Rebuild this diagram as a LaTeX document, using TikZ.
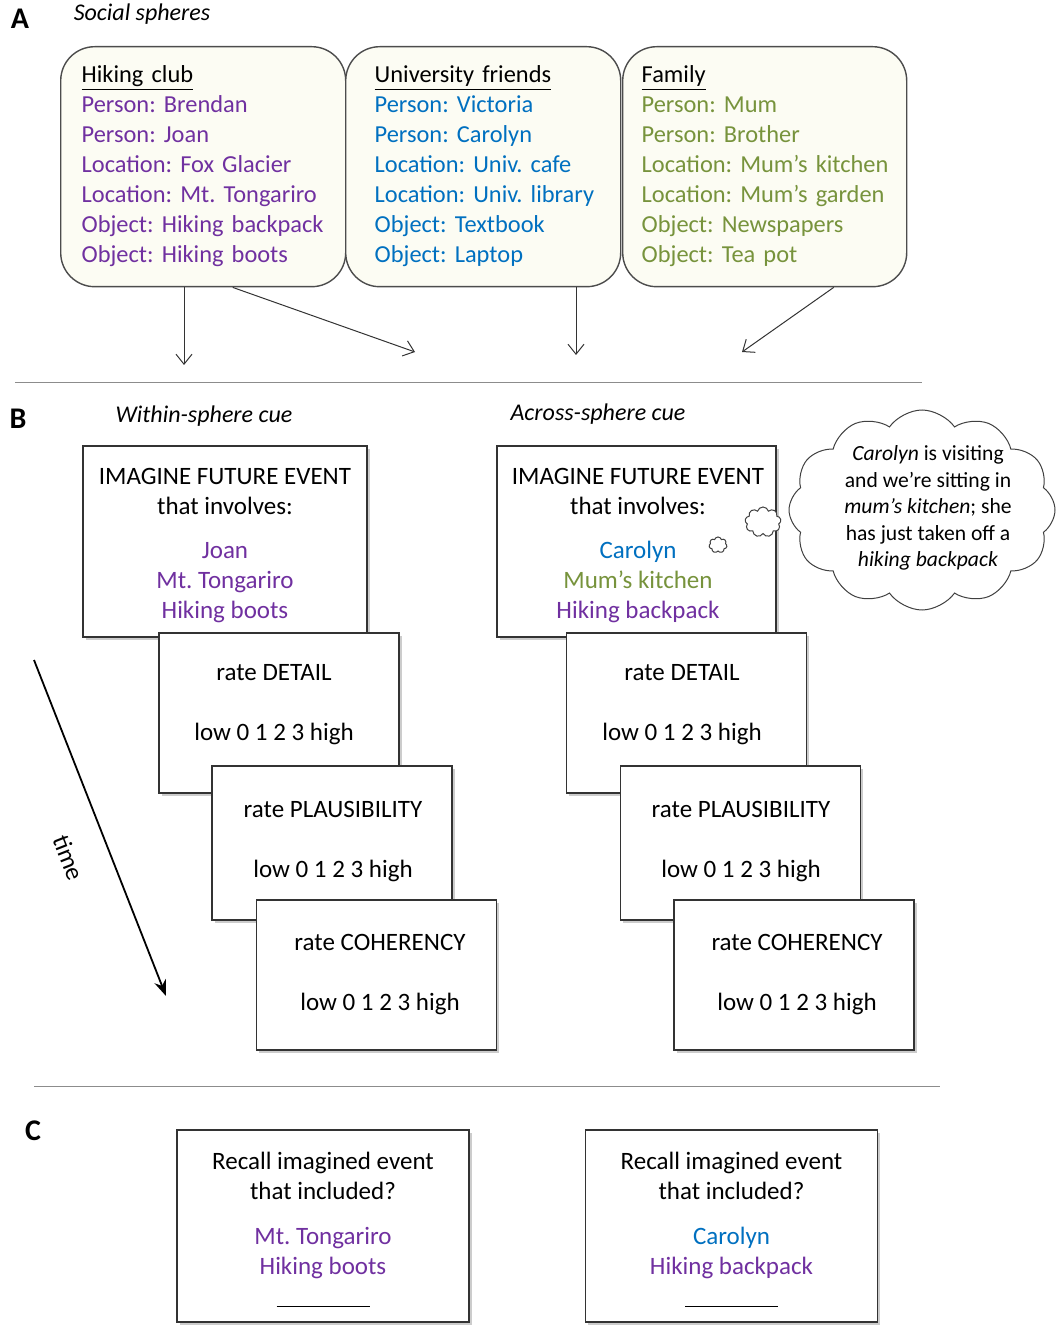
\documentclass[tikz,border=0pt]{standalone}
\usepackage{fontspec}
\setmainfont{Carlito}
\usepackage{xcolor}
\usetikzlibrary{arrows.meta,positioning,shapes.symbols,shadows}
\definecolor{purp}{RGB}{112,48,160}
\definecolor{blu}{RGB}{0,112,192}
\definecolor{olv}{RGB}{119,147,60}
\definecolor{cream}{RGB}{252,252,243}

\begin{document}
\frenchspacing
\begin{tikzpicture}[
  x=0.5pt,y=-0.5pt,
  font=\fontsize{12.5}{15}\selectfont,
  hd/.style={font=\fontsize{15}{18}\selectfont\bfseries},
  ttl/.style={font=\fontsize{12}{15}\selectfont\itshape},
  sph/.style={rectangle,draw=black!70,fill=cream,rounded corners=17pt,line width=0.7pt,align=left,minimum height=120pt,anchor=north west,inner ysep=0pt,font=\fontsize{12.2}{15}\selectfont},
  bx/.style={rectangle,draw=black!80,fill=white,line width=0.6pt,align=center,drop shadow={shadow xshift=1.3pt,shadow yshift=-1.3pt,fill=black!40}},
  ev/.style={bx,minimum height=95.5pt},
  rt/.style={bx,minimum width=120pt},
  rc/.style={bx,minimum width=146pt,minimum height=96pt},
  rtxt/.style={align=center},
  cl/.style={cloud,draw=black!75,fill=white,line width=0.5pt,inner sep=0pt},
  ar/.style={-{Straight Barb[length=5pt,width=8pt]},black!80,line width=0.5pt},
  tm/.style={-{Stealth[length=8pt,width=6pt]},line width=0.9pt},
  sep/.style={black!45,line width=0.5pt}
]
\useasboundingbox (0,0) rectangle (1056,1325);

% A: social spheres
\node[hd] (la) at (20,19) {A};
\node[ttl] (lat) at (142,14) {Social spheres};
\node[sph,text width=121.5pt,inner xsep=10.5pt] (hik) at (60,46) {\begin{tabular}{@{}l@{}}
  \underline{Hiking club}\\
  \textcolor{purp}{Person: Brendan}\\
  \textcolor{purp}{Person: Joan}\\
  \textcolor{purp}{Location: Fox Glacier}\\
  \textcolor{purp}{Location: Mt. Tongariro}\\
  \textcolor{purp}{Object: Hiking backpack}\\
  \textcolor{purp}{Object: Hiking boots}\end{tabular}};
\node[sph,text width=108.5pt,inner xsep=14.5pt] (uni) at (345,46) {\begin{tabular}{@{}l@{}}
  \underline{University friends}\\
  \textcolor{blu}{Person: Victoria}\\
  \textcolor{blu}{Person: Carolyn}\\
  \textcolor{blu}{Location: Univ. cafe}\\
  \textcolor{blu}{Location: Univ. library}\\
  \textcolor{blu}{Object: Textbook}\\
  \textcolor{blu}{Object: Laptop}\end{tabular}};
\node[sph,text width=123pt,inner xsep=9.5pt] (fam) at (622,46) {\begin{tabular}{@{}l@{}}
  \underline{Family}\\
  \textcolor{olv}{Person: Mum}\\
  \textcolor{olv}{Person: Brother}\\
  \textcolor{olv}{Location: Mum’s kitchen}\\
  \textcolor{olv}{Location: Mum’s garden}\\
  \textcolor{olv}{Object: Newspapers}\\
  \textcolor{olv}{Object: Tea pot}\end{tabular}};
\coordinate (a1) at (184,365);
\coordinate (a2) at (415,352);
\coordinate (a3) at (576,355);
\coordinate (a4) at (742,352);
\draw[ar] (hik.south -| a1) -- (a1);
\draw[ar] ([xshift=14.75pt]hik.south) -- (a2);
\draw[ar] (uni.south -| a3) -- (a3);
\draw[ar] ([xshift=34.5pt]fam.south) -- (a4);
\draw[sep] (15,383) -- (922,383);

% B: cue trials
\node[hd] (lb) at (18,419) {B};
\node[ttl] (lbw) at (204,416) {Within-sphere cue};
\node[ttl] (lba) at (598,414) {Across-sphere cue};

\node[ev,minimum width=142pt] (wimg) at (225,541.5) {};
\node[rtxt] (wimgt) at (225,545.5) {IMAGINE FUTURE EVENT\\ that involves:\\[7pt]
  \textcolor{purp}{Joan}\\ \textcolor{purp}{Mt. Tongariro}\\ \textcolor{purp}{Hiking boots}};
\node[rt,minimum height=80pt] (wdet) at (279,713) {};
\node[rtxt] (wdett) at (274,704.5) {rate DETAIL\\[15pt]low 0 1 2 3 high};
\node[rt,minimum height=77pt] (wpla) at (332,843) {};
\node[rtxt] (wplat) at (333,841.5) {rate PLAUSIBILITY\\[15pt]low 0 1 2 3 high};
\node[rt,minimum height=75pt] (wcoh) at (376.5,975) {};
\node[rtxt] (wcoht) at (380,974.5) {rate COHERENCY\\[15pt]low 0 1 2 3 high};

\node[ev,minimum width=139.5pt] (aimg) at (636.5,541.5) {};
\node[rtxt] (aimgt) at (638,545.5) {IMAGINE FUTURE EVENT\\ that involves:\\[7pt]
  \textcolor{blu}{Carolyn}\\ \textcolor{olv}{Mum’s kitchen}\\ \textcolor{purp}{Hiking backpack}};
\node[cl,cloud puffs=9,minimum width=18pt,minimum height=15pt] (bub2) at (763,522) {};
\node[cl,cloud puffs=7,minimum width=9pt,minimum height=8pt] (bub3) at (718,545) {};
\node[cl,cloud puffs=12,cloud puff arc=110,minimum width=133pt,minimum height=100pt] (bub) at (922,510) {};
\node[align=center,font=\fontsize{10.8}{13.25}\selectfont] (bubt) at (928,508) {\textit{Carolyn} is visiting\\
  and we’re sitting in\\ \textit{mum’s kitchen}; she\\ has just taken off a\\ \textit{hiking backpack}};
\node[rt,minimum height=80pt] (adet) at (686.5,713) {};
\node[rtxt] (adett) at (682,704.5) {rate DETAIL\\[15pt]low 0 1 2 3 high};
\node[rt,minimum height=77pt] (apla) at (740.5,843) {};
\node[rtxt] (aplat) at (741,841.5) {rate PLAUSIBILITY\\[15pt]low 0 1 2 3 high};
\node[rt,minimum height=75pt] (acoh) at (794,975) {};
\node[rtxt] (acoht) at (797,974.5) {rate COHERENCY\\[15pt]low 0 1 2 3 high};

\coordinate (t0) at (34,660);
\coordinate (t1) at (166,996);
\draw[tm] (t0) -- node[pos=0.545,sloped,below=12pt] (tl) {time} (t1);
\draw[sep] (34,1086) -- (940,1086);

% C: recall
\node[hd] (lc) at (33,1131) {C};
\node[rc] (wrec) at (323,1226) {};
\node[rtxt] (wrect) at (323,1229.5) {Recall imagined event\\ that included?\\[7.5pt]
  \textcolor{purp}{Mt. Tongariro}\\ \textcolor{purp}{Hiking boots}\\[1.5pt] \rule{46.5pt}{0.5pt}};
\node[rc] (arec) at (731.5,1226) {};
\node[rtxt] (arect) at (731.5,1229.5) {Recall imagined event\\ that included?\\[7.5pt]
  \textcolor{blu}{Carolyn}\\ \textcolor{purp}{Hiking backpack}\\[1.5pt] \rule{46.5pt}{0.5pt}};
\end{tikzpicture}
\end{document}
